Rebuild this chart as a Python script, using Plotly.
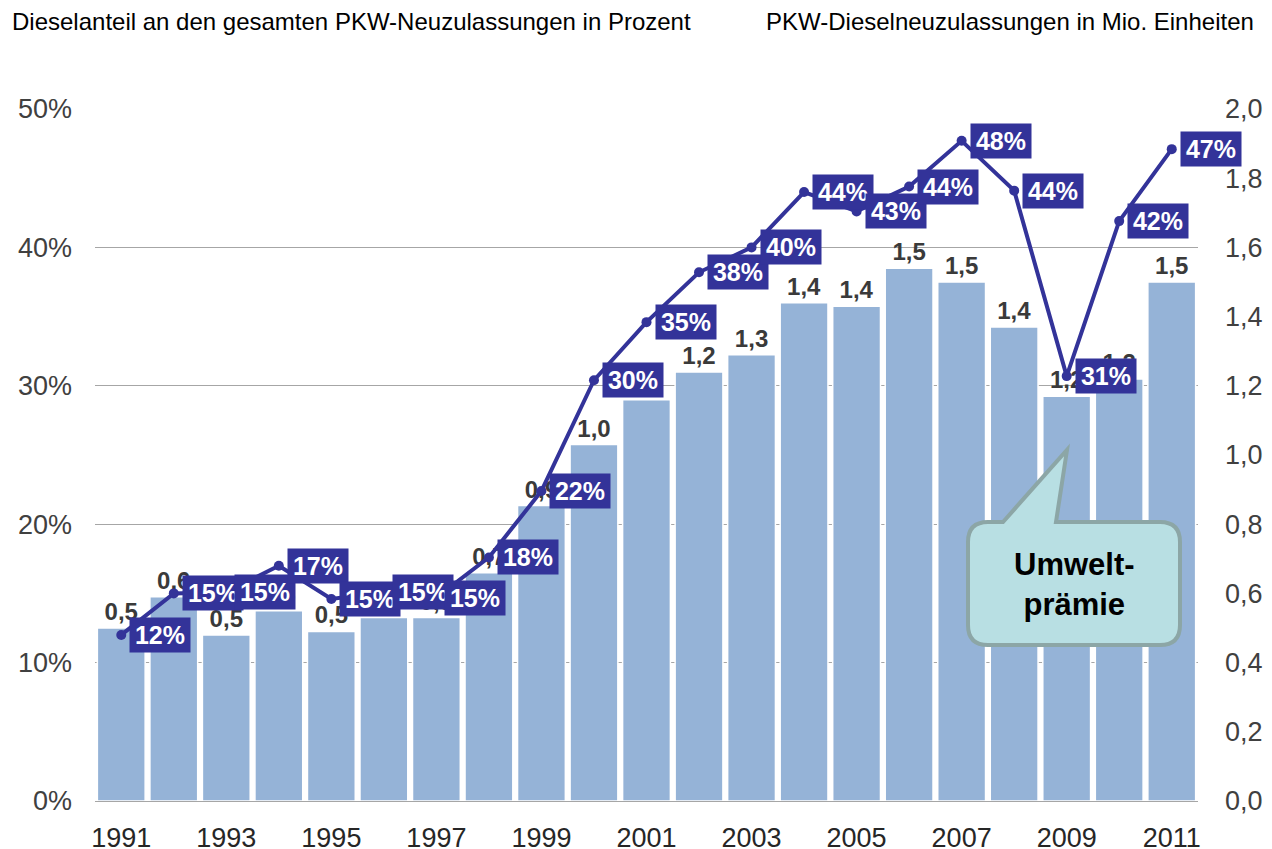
import plotly.graph_objects as go

years = list(range(1991, 2012))
diesel_units_mio = [0.50, 0.59, 0.48, 0.55, 0.49, 0.53, 0.53, 0.66, 0.854, 1.03, 1.16,
                    1.24, 1.29, 1.44, 1.43, 1.54, 1.50, 1.37, 1.17, 1.22, 1.50]
diesel_share_pct = [12.0, 15.0, 15.1, 17.0, 14.6, 15.1, 14.7, 17.6, 22.4, 30.4, 34.6,
                    38.2, 40.0, 44.0, 42.6, 44.4, 47.7, 44.1, 30.7, 41.9, 47.1]
year_ticks = list(range(1991, 2012, 2))
title_left = "Dieselanteil an den gesamten PKW-Neuzulassungen in Prozent"
title_right = "PKW-Dieselneuzulassungen in Mio. Einheiten"
callout_text = "<b>Umwelt-<br>prämie</b>"

FONT = "Arial, Liberation Sans, sans-serif"
NAVY = "#333399"
BAR = "#95B3D7"

# page body has an 8px margin: offset the figure so the plot area lands where wanted
OFF = 8
W, H = 1272, 849
L, R, T, B = 95, 74, 109, 48          # desired plot area in screenshot pixels
pw, ph = W - L - R, H - T - B


def px(x):
    return (x - L) / pw


def py(y):
    return (H - B - y) / ph


fig = go.Figure()
fig.add_trace(go.Bar(
    x=years, y=diesel_units_mio, yaxis="y",
    marker=dict(color=BAR, line=dict(color="white", width=1.5)),
    texttemplate="%{y:.1f}", textposition="outside",
    textfont=dict(family=FONT, size=24, color="#3A3A3A", weight="bold"),
    cliponaxis=False, constraintext="none", showlegend=False,
))
fig.add_trace(go.Scatter(
    x=years, y=diesel_share_pct, yaxis="y2", mode="lines+markers",
    line=dict(color=NAVY, width=4), marker=dict(color=NAVY, size=10),
    cliponaxis=False, showlegend=False,
))

annotations = []
for yr, v in zip(years, diesel_share_pct):
    annotations.append(dict(
        x=yr, y=v, xref="x", yref="y2", text=f"<b>{round(v)}%</b>",
        showarrow=False, xanchor="left", yanchor="middle", xshift=8,
        font=dict(family=FONT, size=25, color="white"),
        bgcolor=NAVY, borderpad=3, width=54, height=28, align="center",
    ))
annotations.append(dict(x=px(10), y=py(22), xref="paper", yref="paper", text=title_left,
                        showarrow=False, xanchor="left", yanchor="middle",
                        font=dict(family=FONT, size=24, color="black")))
annotations.append(dict(x=px(1256), y=py(22), xref="paper", yref="paper", text=title_right,
                        showarrow=False, xanchor="right", yanchor="middle",
                        font=dict(family=FONT, size=24, color="black")))
annotations.append(dict(x=px(1074), y=py(584), xref="paper", yref="paper", text=callout_text,
                        showarrow=False, xanchor="center", yanchor="middle",
                        font=dict(family=FONT, size=31, color="black")))

# callout bubble (decoration) in pixel space converted to paper coords
x0, x1, y0, y1, r = 968, 1180, 522, 645, 20
pts = [
    ("M", (x0 + r, y0)), ("L", (1003, y0)), ("L", (1067, 450)), ("L", (1056, y0)),
    ("L", (x1 - r, y0)), ("Q", (x1, y0), (x1, y0 + r)), ("L", (x1, y1 - r)),
    ("Q", (x1, y1), (x1 - r, y1)), ("L", (x0 + r, y1)), ("Q", (x0, y1), (x0, y1 - r)),
    ("L", (x0, y0 + r)), ("Q", (x0, y0), (x0 + r, y0)),
]
path = ""
for cmd, *cs in pts:
    path += cmd + " " + " ".join(f"{px(a):.5f},{py(b):.5f}" for a, b in cs) + " "
path += "Z"

fig.update_layout(
    width=W, height=H,
    margin=dict(l=L - OFF, r=R + OFF, t=T - OFF, b=B + OFF, autoexpand=False),
    paper_bgcolor="white", plot_bgcolor="white",
    separators=",.",
    bargap=0.09,
    font=dict(family=FONT, color="#404040"),
    xaxis=dict(range=[1990.5, 2011.5], tickvals=year_ticks, showgrid=False,
               showline=True, linecolor="#A6A6A6", linewidth=1, ticks="",
               tickfont=dict(size=27, color="#262626"), ticklabelstandoff=13,
               zeroline=False, automargin=False),
    yaxis=dict(range=[0, 2.0], dtick=0.2, tickformat=".1f", side="right",
               showgrid=False, zeroline=False, showline=False, automargin=False,
               tickfont=dict(size=27, color="#404040"), ticklabelstandoff=26),
    yaxis2=dict(range=[0, 50], dtick=10, ticksuffix="%", side="left",
                overlaying="y", showgrid=True, gridcolor="#A6A6A6", gridwidth=1,
                zeroline=False, showline=False, automargin=False,
                tickfont=dict(size=27, color="#404040"), ticklabelstandoff=22),
    annotations=annotations,
    shapes=[dict(type="path", path=path, xref="paper", yref="paper",
                 fillcolor="#B8DFE3", line=dict(color="#8CA6A6", width=4), layer="above")],
)

fig.write_html("out.html")
